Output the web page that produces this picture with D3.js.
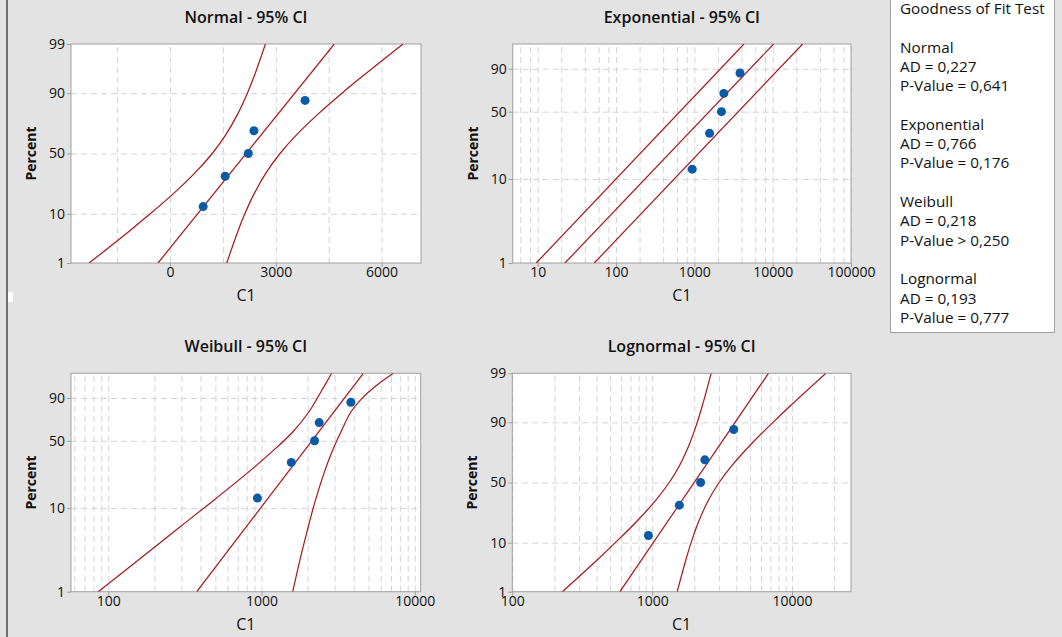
<!DOCTYPE html>
<html lang="en">
<head>
<meta charset="UTF-8">
<title>Probability plots for C1</title>
<script src="https://d3js.org/d3.v7.min.js"></script>
<style>
  body { margin: 0; background: #e3e3e3; }
  svg { display: block; font-family: "Open Sans", sans-serif; }
  .plot-bg { fill: #fff; }
  .plot-border { fill: none; stroke: #a0a0a0; stroke-width: 1; }
  .grid line { stroke: #d4d4d4; stroke-dasharray: 6,4; }
  .grid path { display: none; }
  .axis path { display: none; }
  .axis line { stroke: #a0a0a0; }
  .axis text { font-size: 14px; fill: #111; font-family: "Open Sans", sans-serif; }
  .panel-title { font-size: 16px; font-weight: 600; fill: #111; text-anchor: middle; }
  .y-label { font-size: 14px; font-weight: 700; fill: #111; text-anchor: middle; }
  .x-label { font-size: 16px; fill: #111; text-anchor: middle; }
  .band { fill: none; stroke: #a3161c; stroke-width: 1.2; }
  .dot { fill: #0b5aa5; }
  .gof-box { fill: #fff; stroke: #a0a0a0; }
  .gof text { font-size: 15.3px; fill: #111; }
</style>
</head>
<body>
<svg width="1062" height="637"></svg>
<script>
// sample C1 and its median rank plotting positions (percent)
const c1 = [940, 1565, 2220, 2380, 3830];
const pct = [12.96, 31.48, 50, 68.52, 87.04];

// fitted lines and 95% CI bounds as [C1, percent]
const normalFit = [[-340, 1], [4659, 99]];
const normalLower = [[-2292, 1], [-1148, 5], [-561, 10], [113, 20], [742, 35], [1197, 50], [1570, 65], [1922, 80], [2194, 90], [2388, 95], [2706, 99]];
const normalUpper = [[1609, 1], [1928, 5], [2122, 10], [2394, 20], [2745, 35], [3119, 50], [3573, 65], [4203, 80], [4876, 90], [5464, 95], [6608, 99]];

const expFit = [[22.3, 1], [10300, 99]];
const expLower = [[9.6, 1], [4300, 99]];
const expUpper = [[52.8, 1], [24150, 99]];

const weibullFit = [[378, 1], [4620, 99]];
const weibullLower = [[86, 1], [152, 2.3], [268, 5.27], [475, 11.8], [829, 25.3], [1171, 40], [1605, 59.1], [2042, 79.1], [2445, 93.6], [2872, 99]];
const weibullUpper = [[1598, 1], [1770, 2.3], [1982, 5.27], [2235, 11.8], [2578, 25.3], [2885, 40], [3303, 59.1], [3839, 79.1], [4529, 89.8], [5675, 96.36], [7250, 99]];

const lognormalFit = [[588, 1], [6786, 99]];
const lognormalLower = [[228, 1], [406, 5], [545, 10], [768, 20], [1056, 35], [1324, 50], [1584, 65], [1860, 80], [2101, 90], [2288, 95], [2640, 99]];
const lognormalUpper = [[1510, 1], [1743, 5], [1898, 10], [2143, 20], [2517, 35], [3010, 50], [3776, 65], [5193, 80], [7309, 90], [9822, 95], [17450, 99]];

// axis ticks
const yTicksFull = [1, 10, 50, 90, 99];
const yTicksShort = [1, 10, 50, 90];
const yGrid = [10, 50, 90];
const normalXTicks = [0, 3000, 6000];
const normalXGrid = [-1500, 0, 1500, 3000, 4500, 6000];
const expXTicks = [10, 100, 1000, 10000, 100000];
const weibullXTicks = [100, 1000, 10000];
const lognormalXTicks = [100, 1000, 10000];

// goodness of fit table
const distNames = ["Normal", "Exponential", "Weibull", "Lognormal"];
const adValues = [0.227, 0.766, 0.218, 0.193];
const pSigns = ["=", "=", ">", "="];
const pValues = [0.641, 0.176, 0.250, 0.777];

// inverse standard normal cdf (Acklam's approximation)
function probit(p) {
  const a = [-3.969683028665376e+01, 2.209460984245205e+02, -2.759285104469687e+02, 1.383577518672690e+02, -3.066479806614716e+01, 2.506628277459239e+00];
  const b = [-5.447609879822406e+01, 1.615858368580409e+02, -1.556989798598866e+02, 6.680131188771972e+01, -1.328068155288572e+01];
  const c = [-7.784894002430293e-03, -3.223964580411365e-01, -2.400758277161838e+00, -2.549732539343734e+00, 4.374664141464968e+00, 2.938163982698783e+00];
  const d = [7.784695709041462e-03, 3.224671290700398e-01, 2.445134137142996e+00, 3.754408661907416e+00];
  const pl = 0.02425;
  let q, r;
  if (p < pl) {
    q = Math.sqrt(-2 * Math.log(p));
    return (((((c[0]*q+c[1])*q+c[2])*q+c[3])*q+c[4])*q+c[5]) / ((((d[0]*q+d[1])*q+d[2])*q+d[3])*q+1);
  }
  if (p > 1 - pl) {
    q = Math.sqrt(-2 * Math.log(1 - p));
    return -(((((c[0]*q+c[1])*q+c[2])*q+c[3])*q+c[4])*q+c[5]) / ((((d[0]*q+d[1])*q+d[2])*q+d[3])*q+1);
  }
  q = p - 0.5; r = q * q;
  return (((((a[0]*r+a[1])*r+a[2])*r+a[3])*r+a[4])*r+a[5])*q / (((((b[0]*r+b[1])*r+b[2])*r+b[3])*r+b[4])*r+1);
}
const normT = p => probit(p / 100);
const sevT = p => Math.log(-Math.log(1 - p / 100));

// keep only log grid lines whose leading digit is in steps
const logGrid = (scale, steps) => scale.ticks().filter(v => {
  const m = Math.round(v / Math.pow(10, Math.floor(Math.log10(v) + 1e-9)));
  return m === 1 || steps.includes(m);
});

const panels = [
  { title: "Normal - 95% CI", x0: 71, y0: 44, w: 350, h: 219, log: false, xDomain: [-2807, 7117],
    xTicks: normalXTicks, grid: () => normalXGrid, t: normT, yTicks: yTicksFull,
    fit: normalFit, lower: normalLower, upper: normalUpper },
  { title: "Exponential - 95% CI", x0: 512.7, y0: 44, w: 338.3, h: 219, log: true, xDomain: [4.8, 100000],
    xTicks: expXTicks, grid: s => logGrid(s, [2, 4, 6, 8]), t: sevT, yTicks: yTicksShort,
    fit: expFit, lower: expLower, upper: expUpper },
  { title: "Weibull - 95% CI", x0: 71, y0: 373.3, w: 349.7, h: 218.4, log: true, xDomain: [57.1, 10940],
    xTicks: weibullXTicks, grid: s => logGrid(s, [2, 3, 4, 5, 6, 7, 8, 9]), t: sevT, yTicks: yTicksShort,
    fit: weibullFit, lower: weibullLower, upper: weibullUpper },
  { title: "Lognormal - 95% CI", x0: 512.3, y0: 373.3, w: 338.7, h: 218.4, log: true, xDomain: [100, 26400],
    xTicks: lognormalXTicks, grid: s => logGrid(s, [2, 3, 4, 5, 6, 7, 8, 9]), t: normT, yTicks: yTicksFull,
    fit: lognormalFit, lower: lognormalLower, upper: lognormalUpper }
];

const svg = d3.select("svg");

// dark frame edge on the left
svg.append("rect").attr("x", 6).attr("y", 0).attr("width", 2).attr("height", 637).attr("fill", "#6e6e6e");
svg.append("rect").attr("x", 8).attr("y", 292).attr("width", 5).attr("height", 10).attr("fill", "#fff");

panels.forEach((P, idx) => {
  const g = svg.append("g").attr("transform", `translate(${P.x0},${P.y0})`);
  const x = (P.log ? d3.scaleLog() : d3.scaleLinear()).domain(P.xDomain).range([0, P.w]);
  const yT = d3.scaleLinear().domain([P.t(1), P.t(99)]).range([P.h, 0]);
  const y = p => yT(P.t(p));

  g.append("rect").attr("class", "plot-bg").attr("width", P.w).attr("height", P.h);

  // dashed grid
  g.append("g").attr("class", "grid")
    .attr("transform", `translate(0,${P.h})`)
    .call(d3.axisBottom(x).tickValues(P.grid(x)).tickSize(-P.h).tickFormat(""));
  g.append("g").attr("class", "grid")
    .call(d3.axisLeft(yT).tickValues(yGrid.map(P.t)).tickSize(-P.w).tickFormat(""));

  g.append("rect").attr("class", "plot-border").attr("width", P.w).attr("height", P.h);

  // axes
  g.append("g").attr("class", "axis")
    .attr("transform", `translate(0,${P.h})`)
    .call(d3.axisBottom(x).tickValues(P.xTicks).tickSize(4).tickPadding(0).tickFormat(d3.format("d")));
  g.append("g").attr("class", "axis")
    .call(d3.axisLeft(yT).tickValues(P.yTicks.map(P.t)).tickSize(4).tickPadding(2)
      .tickFormat((d, i) => P.yTicks[i]));

  // fit and CI lines
  const clipId = "clip" + idx;
  g.append("clipPath").attr("id", clipId)
    .append("rect").attr("width", P.w).attr("height", P.h);
  const lines = g.append("g").attr("clip-path", `url(#${clipId})`);
  const line = d3.line().x(d => x(d[0])).y(d => y(d[1]));
  const curve = d3.line().x(d => x(d[0])).y(d => y(d[1])).curve(d3.curveCatmullRom.alpha(0.5));
  [P.lower, P.upper].forEach(b => {
    lines.append("path").attr("class", "band").attr("d", b.length > 2 ? curve(b) : line(b));
  });
  lines.append("path").attr("class", "band").attr("d", line(P.fit));

  // data points
  g.selectAll(".dot")
    .data(c1.map((v, i) => [v, pct[i]]))
    .join("circle")
    .attr("class", "dot")
    .attr("cx", d => x(d[0]))
    .attr("cy", d => y(d[1]))
    .attr("r", 4.5);

  // labels
  g.append("text").attr("class", "panel-title")
    .attr("x", P.w / 2).attr("y", -21).text(P.title);
  g.append("text").attr("class", "x-label")
    .attr("x", P.w / 2).attr("y", P.h + 38).text("C1");
  g.append("text").attr("class", "y-label")
    .attr("transform", `translate(-35,${P.h / 2}) rotate(-90)`).text("Percent");
});

// goodness of fit box
const locale = d3.formatLocale({ decimal: ",", thousands: ".", grouping: [3], currency: ["", ""] });
const f3 = locale.format(".3f");
const gofLines = ["Goodness of Fit Test"];
distNames.forEach((n, i) => {
  gofLines.push("", n, `AD = ${f3(adValues[i])}`, `P-Value ${pSigns[i]} ${f3(pValues[i])}`);
});

const gof = svg.append("g").attr("class", "gof");
gof.append("rect").attr("class", "gof-box")
  .attr("x", 890.5).attr("y", -2).attr("width", 164).attr("height", 334.5);
gof.selectAll("text")
  .data(gofLines)
  .join("text")
  .attr("x", 900)
  .attr("y", (d, i) => 14 + i * 19.3)
  .text(d => d);
</script>
</body>
</html>
